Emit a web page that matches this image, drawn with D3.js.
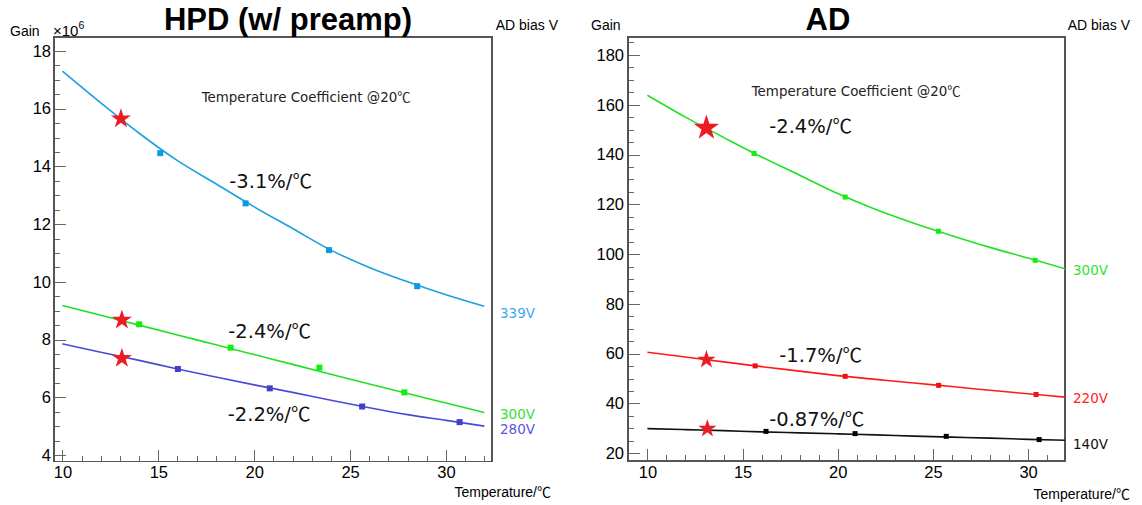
<!DOCTYPE html>
<html>
<head>
<meta charset="utf-8">
<script src="https://cdn.jsdelivr.net/npm/d3@7"></script>
<style>
  body { margin: 0; background: #fff; }
  svg { display: block; }
  .tick text { font-family: "Liberation Sans", Arial, sans-serif; font-size: 16.5px; fill: #000; }
</style>
</head>
<body>
<svg id="chart" width="1142" height="505"></svg>
<script>
// ---- data ----
const fitTemp = [10, 12, 14, 16, 18, 20, 22, 24, 26, 28, 30, 32];

// HPD (w/ preamp), gain x10^6
const hpdPtTemp339 = [15.1, 19.55, 23.9, 28.5];
const hpdPtGain339 = [14.46, 12.72, 11.1, 9.85];
const hpdPtTemp300 = [14.0, 18.77, 23.4, 27.83];
const hpdPtGain300 = [8.53, 7.72, 7.03, 6.17];
const hpdPtTemp280 = [16.02, 20.81, 25.63, 30.71];
const hpdPtGain280 = [6.98, 6.31, 5.68, 5.14];
const hpdFit339 = [17.3, 16.2, 15.15, 14.2, 13.4, 12.6, 11.85, 11.1, 10.5, 10.0, 9.55, 9.15];
const hpdFit300 = [9.18, 8.84, 8.5, 8.16, 7.82, 7.48, 7.14, 6.8, 6.46, 6.13, 5.8, 5.47];
const hpdFit280 = [7.85, 7.56, 7.28, 6.98, 6.7, 6.43, 6.17, 5.9, 5.64, 5.4, 5.2, 5.0];
const hpdStarTemp = [13.05, 13.1, 13.1];
const hpdStarGain = [15.65, 8.68, 7.35];
const hpdCoef = ["-3.1%/℃", "-2.4%/℃", "-2.2%/℃"];
const hpdVolt = ["339V", "300V", "280V"];

// AD, gain
const adPtTemp300 = [15.6, 20.39, 25.29, 30.37];
const adPtGain300 = [140.4, 122.9, 109.2, 97.5];
const adPtTemp220 = [15.66, 20.39, 25.3, 30.42];
const adPtGain220 = [55.1, 50.9, 47.3, 43.6];
const adPtTemp140 = [16.23, 20.91, 25.7, 30.58];
const adPtGain140 = [28.8, 27.9, 26.8, 25.5];
const adFit300 = [163.8, 155.0, 146.9, 139.0, 131.7, 124.3, 117.9, 112.4, 107.4, 102.7, 98.4, 94.0];
const adFit220 = [60.6, 58.7, 56.7, 54.8, 53.0, 51.2, 49.7, 48.2, 46.8, 45.3, 43.9, 42.5];
const adFit140 = [29.9, 29.5, 29.1, 28.6, 28.2, 27.8, 27.4, 26.9, 26.5, 26.1, 25.6, 25.2];
const adStarTemp = [13.1, 13.1, 13.15];
const adStarGain = [150.7, 57.6, 29.9];
const adCoef = ["-2.4%/℃", "-1.7%/℃", "-0.87%/℃"];
const adVolt = ["300V", "220V", "140V"];

const svg = d3.select("#chart");
svg.append("rect").attr("width", 1142).attr("height", 505).attr("fill", "#fff");

const cjk = '"DejaVu Sans", "Noto Sans CJK JP", sans-serif';
const helv = '"Liberation Sans", Arial, "Noto Sans CJK JP", sans-serif';

// the ℃ sign is a full-width glyph in the original, so put it in a CJK font
function degText(sel, str) {
  const parts = str.split("℃");
  sel.append("tspan").text(parts[0]);
  if (parts.length > 1) {
    sel.append("tspan").attr("font-family", '"Noto Sans CJK JP", sans-serif').text("℃");
  }
  return sel;
}

function drawPanel(p) {
  const x = d3.scaleLinear().domain(p.xDomain).range([p.left, p.right]);
  const y = d3.scaleLinear().domain(p.yDomain).range([p.bottom, p.top]);
  const g = svg.append("g");

  const clipId = "clip" + p.id;
  g.append("clipPath").attr("id", clipId)
    .append("rect").attr("x", p.left).attr("y", p.top)
    .attr("width", p.right - p.left).attr("height", p.bottom - p.top);

  // minor + major ticks, pointing into the frame
  const xMinor = d3.range(Math.ceil(p.xDomain[0]), p.xDomain[1] + 1e-9, 1);
  const yMinor = d3.range(Math.ceil(p.yDomain[0] / p.yMinor) * p.yMinor, p.yDomain[1] + 1e-9, p.yMinor);

  g.append("g").attr("transform", `translate(0,${p.bottom})`)
    .call(d3.axisBottom(x).tickValues(xMinor).tickSize(-6).tickFormat(""));
  g.append("g").attr("transform", `translate(0,${p.bottom})`)
    .call(d3.axisBottom(x).tickValues(d3.range(10, 31, 5)).tickSizeInner(-12).tickSizeOuter(0).tickPadding(5));
  g.append("g").attr("transform", `translate(${p.left},0)`)
    .call(d3.axisLeft(y).tickValues(yMinor).tickSize(-6).tickFormat(""));
  g.append("g").attr("transform", `translate(${p.left},0)`)
    .call(d3.axisLeft(y).tickValues(p.yMajor).tickSizeInner(-12).tickSizeOuter(0).tickPadding(p.yPad));
  g.selectAll(".domain").remove();
  g.selectAll(".tick line").attr("stroke", "#666").attr("shape-rendering", "crispEdges");

  g.append("rect")
    .attr("x", p.left).attr("y", p.top)
    .attr("width", p.right - p.left).attr("height", p.bottom - p.top)
    .attr("fill", "none").attr("stroke", "#555").attr("stroke-width", 1.2)
    .attr("shape-rendering", "crispEdges");

  const line = d3.line().x(d => x(d[0])).y(d => y(d[1])).curve(d3.curveMonotoneX);
  const plot = g.append("g").attr("clip-path", `url(#${clipId})`);

  p.series.forEach((s, i) => {
    plot.append("path")
      .datum(d3.zip(fitTemp, s.fit))
      .attr("fill", "none").attr("stroke", s.line).attr("stroke-width", 1.6)
      .attr("d", line);
    plot.selectAll(null).data(d3.zip(s.temp, s.gain)).join("rect")
      .attr("x", d => x(d[0]) - p.sq / 2).attr("y", d => y(d[1]) - p.sq / 2)
      .attr("width", p.sq).attr("height", p.sq).attr("fill", s.mark);
    plot.append("path")
      .attr("d", d3.symbol(d3.symbolStar, s.star)())
      .attr("transform", `translate(${x(p.starTemp[i])},${y(p.starGain[i])})`)
      .attr("fill", "#ed1c24");

    degText(g.append("text")
      .attr("x", x(s.coefAt[0])).attr("y", y(s.coefAt[1]))
      .attr("font-family", cjk).attr("font-size", 19.5).attr("fill", "#111"), s.coef);
    g.append("text")
      .attr("x", p.right + 8).attr("y", y(s.fit[s.fit.length - 1]) + s.voltDy)
      .attr("font-family", cjk).attr("font-size", 13.5).attr("fill", s.label)
      .text(s.volt);
  });

  degText(g.append("text")
    .attr("x", x(p.noteAt[0])).attr("y", y(p.noteAt[1]))
    .attr("font-family", cjk).attr("font-size", 13.4).attr("fill", "#222"),
    "Temperature Coefficient @20℃");

  g.append("text")
    .attr("x", p.titleX).attr("y", 30).attr("text-anchor", "middle")
    .attr("font-family", helv).attr("font-size", 31).attr("font-weight", "bold")
    .text(p.title);
  g.append("text")
    .attr("x", p.gainX).attr("y", p.gainY)
    .attr("font-family", helv).attr("font-size", 14).text("Gain");
  g.append("text")
    .attr("x", p.biasX).attr("y", p.biasY).attr("text-anchor", "end")
    .attr("font-family", helv).attr("font-size", 14).text("AD bias V");
  degText(g.append("text")
    .attr("x", p.tempX).attr("y", p.tempY).attr("text-anchor", "end")
    .attr("font-family", helv).attr("font-size", 14), "Temperature/℃");
  return g;
}

const hpd = drawPanel({
  id: "hpd", title: "HPD (w/ preamp)", titleX: 288,
  left: 54, right: 492, top: 37, bottom: 461.5,
  xDomain: [9.56, 32.4], yDomain: [3.775, 18.485],
  yMajor: d3.range(4, 19, 2), yMinor: 0.5, yPad: 3, sq: 6,
  starTemp: hpdStarTemp, starGain: hpdStarGain,
  noteAt: [17.26, 16.24],
  gainX: 10, gainY: 36, biasX: 558, biasY: 30, tempX: 551, tempY: 497,
  series: [
    {temp: hpdPtTemp339, gain: hpdPtGain339, fit: hpdFit339, line: "#1d9fe0", mark: "#0b9ae0", label: "#3aaaee",
     star: 125, coef: hpdCoef[0], coefAt: [18.7, 13.24], volt: hpdVolt[0], voltDy: 12},
    {temp: hpdPtTemp300, gain: hpdPtGain300, fit: hpdFit300, line: "#22e022", mark: "#11ee11", label: "#33e033",
     star: 125, coef: hpdCoef[1], coefAt: [18.65, 8.06], volt: hpdVolt[1], voltDy: 6},
    {temp: hpdPtTemp280, gain: hpdPtGain280, fit: hpdFit280, line: "#4a4ad4", mark: "#4040c8", label: "#5858dc",
     star: 125, coef: hpdCoef[2], coefAt: [18.62, 5.19], volt: hpdVolt[2], voltDy: 8}
  ]
});

// x10^6 multiplier next to the gain label
hpd.append("text")
  .attr("x", 53).attr("y", 36)
  .attr("font-family", helv).attr("font-size", 15)
  .text("×10")
  .append("tspan").attr("dy", -7).attr("font-size", 10.5).text("6");

drawPanel({
  id: "ad", title: "AD", titleX: 828,
  left: 628, right: 1065, top: 37, bottom: 461,
  xDomain: [8.98, 31.94], yDomain: [16.9, 187.2],
  yMajor: d3.range(20, 181, 20), yMinor: 5, yPad: 4, sq: 5,
  starTemp: adStarTemp, starGain: adStarGain,
  noteAt: [15.48, 163.5],
  gainX: 591, gainY: 30, biasX: 1130, biasY: 30, tempX: 1130, tempY: 499,
  series: [
    {temp: adPtTemp300, gain: adPtGain300, fit: adFit300, line: "#22e022", mark: "#11ee11", label: "#33e033",
     star: 200, coef: adCoef[0], coefAt: [16.4, 148.6], volt: adVolt[0], voltDy: 6},
    {temp: adPtTemp220, gain: adPtGain220, fit: adFit220, line: "#ff1a1a", mark: "#ee1111", label: "#ff2222",
     star: 105, coef: adCoef[1], coefAt: [16.93, 56.6], volt: adVolt[1], voltDy: 6},
    {temp: adPtTemp140, gain: adPtGain140, fit: adFit140, line: "#111", mark: "#000", label: "#111",
     star: 105, coef: adCoef[2], coefAt: [16.4, 31.1], volt: adVolt[2], voltDy: 9}
  ]
});
</script>
</body>
</html>
